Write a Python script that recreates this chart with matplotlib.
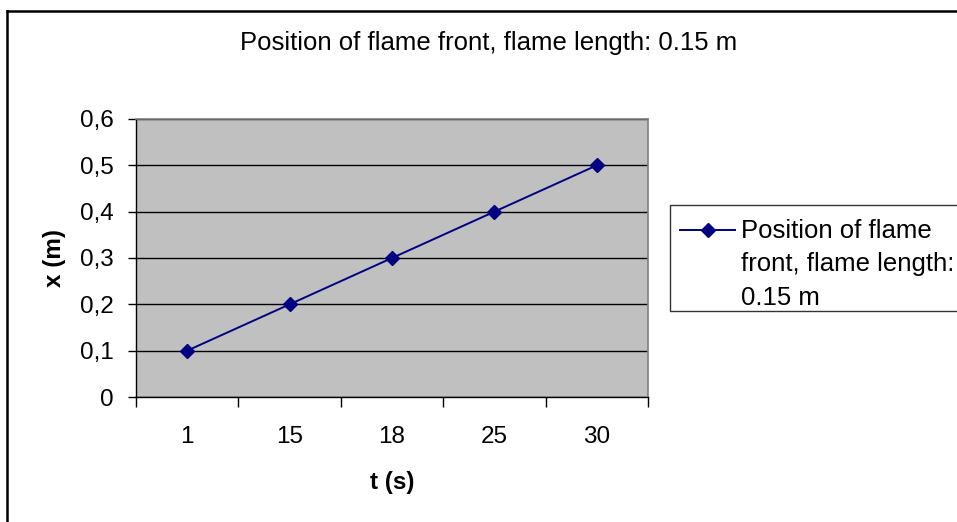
import matplotlib.pyplot as plt
from matplotlib.lines import Line2D
from matplotlib.legend_handler import HandlerLine2D
from matplotlib.ticker import FixedLocator, FuncFormatter

# flame front position vs time
t_labels = ["1", "15", "18", "25", "30"]
x_pos = [0.1, 0.2, 0.3, 0.4, 0.5]
series_name = "Position of flame\nfront, flame length:\n0.15 m"
title = "Position of flame front, flame length: 0.15 m"

plt.rcParams['font.family'] = ['Liberation Sans', 'DejaVu Sans']

W, H = 957, 522
fig = plt.figure(figsize=(W / 100, H / 100), dpi=100)
ax = fig.add_axes([136/W, 1 - 397/H, 512/W, 278/H])
ax.set_facecolor("#c0c0c0")

idx = list(range(len(t_labels)))
line, = ax.plot(idx, x_pos, color="#000080", linewidth=1.4, marker="D",
                markersize=7.5, markerfacecolor="#000080", markeredgecolor="#000080",
                label=series_name, zorder=3)

# category axis: ticks between categories, labels centered
ax.set_xlim(-0.5, len(t_labels) - 0.5)
ax.xaxis.set_major_locator(FixedLocator([i - 0.5 for i in range(len(t_labels) + 1)]))
ax.xaxis.set_minor_locator(FixedLocator(idx))
ax.set_xticklabels([])
ax.set_xticklabels(t_labels, minor=True)
ax.tick_params(axis="x", which="major", direction="out", length=7, width=1, color="black")
ax.tick_params(axis="x", which="minor", length=0, pad=21, labelsize=17.5)

ax.set_ylim(0, 0.6)
ax.set_yticks([0, 0.1, 0.2, 0.3, 0.4, 0.5, 0.6])
ax.yaxis.set_major_formatter(FuncFormatter(lambda v, p: "0" if v == 0 else f"{v:.1f}".replace(".", ",")))
ax.tick_params(axis="y", direction="out", length=6, width=1, color="black", labelsize=17.5, pad=10)

ax.yaxis.grid(True, color="black", linewidth=1)
ax.set_axisbelow(True)

for side in ["top", "right"]:
    ax.spines[side].set_color("#808080")
    ax.spines[side].set_linewidth(1.2)
for side in ["left", "bottom"]:
    ax.spines[side].set_color("black")
    ax.spines[side].set_linewidth(1)

fig.text(489/W, 1 - 43/H, title, ha="center", va="center", fontsize=18.5)
fig.text(54/W, 1 - 258/H, "x (m)", rotation=90, ha="center", va="center",
         fontsize=17.5, fontweight="bold")
fig.text(392/W, 1 - 483/H, "t (s)", ha="center", va="center",
         fontsize=17.5, fontweight="bold")


# legend handle sits beside the first line of the wrapped label
class FirstLineHandler(HandlerLine2D):
    def __init__(self, xshift, yshift, **kw):
        super().__init__(**kw)
        self.xshift = xshift
        self.yshift = yshift

    def create_artists(self, legend, orig_handle, xdescent, ydescent,
                       width, height, fontsize, trans):
        arts = super().create_artists(legend, orig_handle, xdescent, ydescent,
                                      width, height, fontsize, trans)
        for a in arts:
            a.set_xdata([x + self.xshift for x in a.get_xdata()])
            a.set_ydata([y + self.yshift for y in a.get_ydata()])
        return arts


leg_fs = 18.5
leg = fig.legend(handles=[line], loc="upper left",
                 bbox_to_anchor=(670/W, 1 - 205/H - 0.01, 300/W, 0.01), mode="expand",
                 fontsize=leg_fs, frameon=True, fancybox=False, borderpad=0.04,
                 handlelength=2.15, handletextpad=0.58, borderaxespad=0,
                 labelspacing=0.1, title=" ", title_fontsize=7,
                 handler_map={line: FirstLineHandler(xshift=6.5, yshift=1.33 * leg_fs)})
leg.get_texts()[0].set_linespacing(1.5)
leg.get_frame().set_edgecolor("black")
leg.get_frame().set_linewidth(1)

# outer chart border (top and left edges show)
fig.add_artist(Line2D([7/W, 1.0], [1 - 11/H, 1 - 11/H], transform=fig.transFigure,
                      color="black", linewidth=1.8))
fig.add_artist(Line2D([7/W, 7/W], [0.0, 1 - 11/H], transform=fig.transFigure,
                      color="black", linewidth=1.8))

fig.savefig("out.png", dpi=100)
